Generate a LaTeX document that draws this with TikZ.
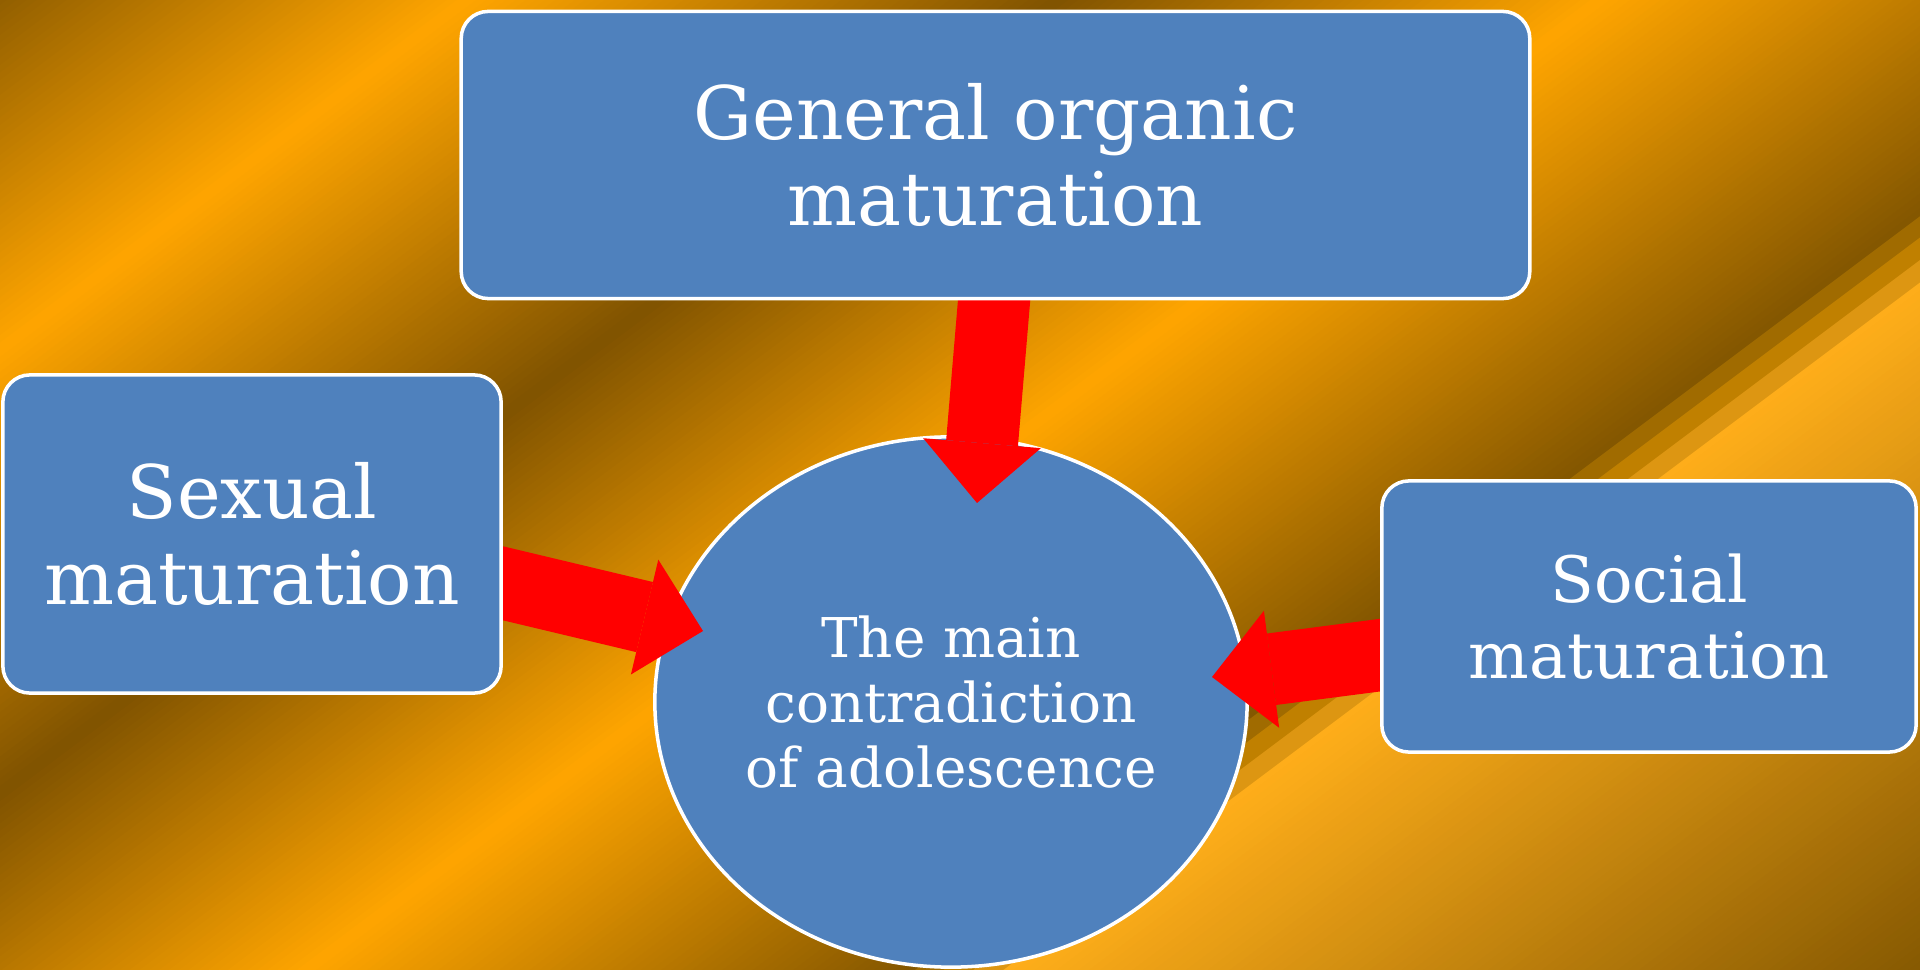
\documentclass[tikz,border=0pt]{standalone}
\usepackage{fontspec}
\setmainfont{DejaVu Serif}
\usetikzlibrary{arrows.meta,calc,shapes.geometric}
\pgfdeclarelayer{bgl}
\pgfdeclarelayer{arrl}
\pgfsetlayers{bgl,arrl,main}

\definecolor{boxblue}{HTML}{4F81BD}
\definecolor{arrred}{HTML}{FF0000}
\definecolor{bgc0}{HTML}{8A5A00}
\definecolor{bgor}{HTML}{FFA500}
\definecolor{bgdk}{HTML}{805300}
\definecolor{bgedge}{HTML}{835600}
\definecolor{bgsA}{HTML}{A06B00}
\definecolor{bgsB}{HTML}{C08000}
\definecolor{bgsC}{HTML}{DD9612}
\definecolor{bglt}{HTML}{FFAE1A}
\definecolor{bgend}{HTML}{7F5400}

% strip between s=#1 and s=#2 (s = 0.6x + 0.8y in pixels), colour #3
\newcommand\bgstrip[3]{%
  \fill[#3] ({0.6*(#1)-560},{0.8*(#1)+420}) -- ({0.6*(#1)+1360},{0.8*(#1)-1020})
    -- ({0.6*(#2)+1360},{0.8*(#2)-1020}) -- ({0.6*(#2)-560},{0.8*(#2)+420}) -- cycle;}
% gradient segment from s=#1 to s=#2 in #3 steps, colour #4 to #5
\newcommand\bgseg[5]{%
  \foreach \bgk in {1,...,#3}{%
    \pgfmathsetmacro\bgA{(#1)+((\bgk-1)/(#3))*((#2)-(#1))}%
    \pgfmathsetmacro\bgB{(#1)+(\bgk/(#3))*((#2)-(#1))+1}%
    \pgfmathsetmacro\bgP{100*((\bgk-0.5)/(#3))}%
    \bgstrip{\bgA}{\bgB}{#5!\bgP!#4}%
  }}

\tikzset{
  box/.style={draw=white, line width=1pt, fill=boxblue, rounded corners=0.27cm,
    text=white, align=center, inner sep=0pt},
  fat/.style={draw=arrred, line width=0.72cm,
    -{Triangle[length=0.6cm,width=1.18cm,line width=0pt]}},
}

\begin{document}
\begin{tikzpicture}[x=0.01cm, y=-0.01cm]
\useasboundingbox (0,0) rectangle (1920,970);

\begin{pgfonlayer}{bgl}
  \begin{scope}
    \clip (0,0) rectangle (1920,970);
    \bgseg{-20}{280}{50}{bgc0}{bgor}
    \bgseg{280}{635}{60}{bgor}{bgdk}
    \bgseg{635}{960}{55}{bgdk}{bgor}
    \bgseg{960}{1325}{60}{bgor}{bgedge}
    \bgstrip{1325}{1343}{bgsA}
    \bgstrip{1342}{1361}{bgsB}
    \bgstrip{1360}{1379}{bgsC}
    \bgseg{1378}{1960}{90}{bglt}{bgend}
  \end{scope}
  \node[ellipse, draw=white, line width=1pt, fill=boxblue, minimum width=5.92cm,
    minimum height=5.30cm, inner sep=0pt, text=white, align=center,
    font=\fontsize{15.6}{18.6}\selectfont] (main) at (951,702)
    {The main\\contradiction\\of adolescence};
\end{pgfonlayer}

\node[box, minimum width=10.68cm, minimum height=2.87cm,
  font=\fontsize{21}{24.5}\selectfont] (top) at (995.5,155)
  {General organic\\maturation};
\node[box, minimum width=4.98cm, minimum height=3.18cm,
  font=\fontsize{21}{24.5}\selectfont] (left) at (252,534)
  {Sexual\\maturation};
\node[box, minimum width=5.34cm, minimum height=2.71cm,
  font=\fontsize{18.2}{21.6}\selectfont] (right) at (1649,616.5)
  {Social\\maturation};

\coordinate (t1) at (977,503);
\coordinate (t2) at (703,631);
\coordinate (t3) at (1212,677);

\begin{pgfonlayer}{arrl}
  \draw[fat] ($(top.south)+(0.2,-19)$) -- (t1);
  \draw[fat] ($(left.east)+(-21.3,44.2)$) -- (t2);
  \draw[fat] ($(right.west)+(21.8,35.8)$) -- (t3);
\end{pgfonlayer}
\end{tikzpicture}
\end{document}
